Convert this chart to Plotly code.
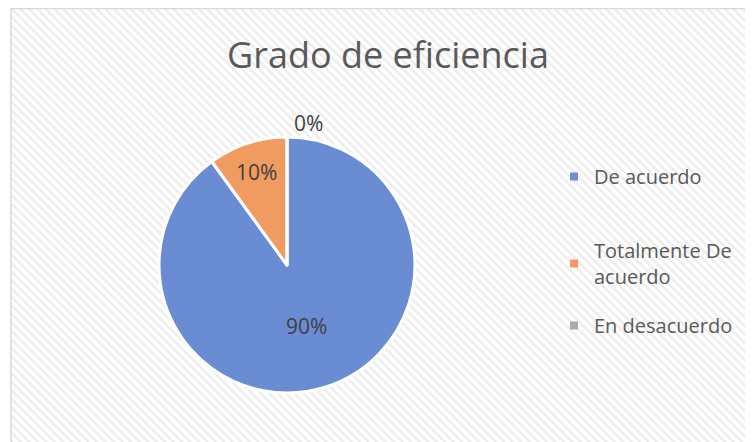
import plotly.graph_objects as go

labels = ["De acuerdo", "Totalmente De acuerdo", "En desacuerdo"]
legend_labels = ["De acuerdo", "Totalmente De<br>acuerdo", "En desacuerdo"]
values = [90, 10, 0]
colors = ["#6A8CD2", "#F09B60", "#A5A5A5"]
legend_colors = ["#6E8FD4", "#F29A60", "#ABABAB"]

W, H = 753, 442

fig = go.Figure()

# hatched chart-area background
fig.add_trace(go.Scatter(
    x=[0, 1, 1, 0, 0], y=[0, 0, 1, 1, 0], mode="lines", fill="toself",
    line=dict(width=0), fillcolor="white",
    fillpattern=dict(shape="\\", fgcolor="#D9D9D9", bgcolor="white", size=6, solidity=0.4),
    hoverinfo="skip", showlegend=False,
))

fig.add_trace(go.Pie(
    labels=labels, values=values, sort=False, direction="clockwise", rotation=0,
    marker=dict(colors=colors, line=dict(color="white", width=3)),
    texttemplate="%{percent:.0%}",
    textposition=["inside", "inside", "outside"],
    textfont=dict(family="Open Sans", size=21, color="#404040"),
    insidetextorientation="horizontal",
    domain=dict(x=[0.2005, 0.5405], y=[0.129, 0.708]),
    showlegend=False, hoverinfo="label+percent",
))

legend_tops = [149, 223, 298]
legend_names = ["legend", "legend2", "legend3"]
for lab, col, lg in zip(legend_labels, legend_colors, legend_names):
    fig.add_trace(go.Scatter(
        x=[None], y=[None], mode="markers", name=lab, legend=lg,
        marker=dict(symbol="square", size=8, color=col),
    ))

fig.add_shape(type="rect", xref="paper", yref="paper", x0=3/W, x1=1.01, y0=-0.01, y1=0.999,
              line=dict(color="#D9D9D9", width=1.5))

legend_common = dict(x=546/W, xanchor="left", yanchor="top",
                     font=dict(family="Open Sans", size=20, color="#595959"),
                     bgcolor="rgba(0,0,0,0)", itemwidth=30)

fig.update_layout(
    width=W, height=H, margin=dict(l=0, r=0, t=0, b=0),
    paper_bgcolor="white", plot_bgcolor="white",
    xaxis=dict(domain=[3/W, 1], range=[0, 1], visible=False, fixedrange=True),
    yaxis=dict(domain=[0, 1], range=[0, 1], visible=False, fixedrange=True),
    title=dict(text="Grado de eficiencia", x=380/W, xanchor="center", y=1-47/H, yanchor="middle",
               yref="container", font=dict(family="Open Sans", size=36, color="#595959")),
    legend=dict(y=1-legend_tops[0]/H, **legend_common),
    legend2=dict(y=1-legend_tops[1]/H, **legend_common),
    legend3=dict(y=1-legend_tops[2]/H, **legend_common),
)

fig.write_html("out.html")
